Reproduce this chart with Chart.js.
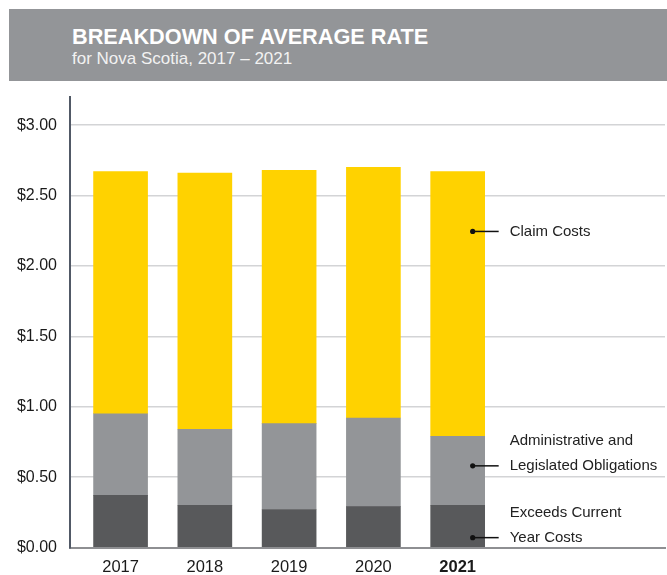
<!DOCTYPE html>
<html>
<head>
<meta charset="utf-8">
<script src="https://cdn.jsdelivr.net/npm/chart.js@4"></script>
<style>
  body { margin: 0; background: #fff; }
  #wrap { position: relative; width: 667px; height: 575px; }
  #banner { position: absolute; left: 9px; top: 9px; width: 658px; height: 72px; background: #939598; }
  .hd { position: absolute; left: 63px; line-height: 1; color: #fff; font-family: "Liberation Sans", Arial, sans-serif; white-space: nowrap; }
  #title { top: 16.6px; font-size: 21.7px; font-weight: bold; }
  #sub { top: 40.6px; font-size: 17px; color: #f2f2f2; }
</style>
</head>
<body>
<div id="wrap">
  <canvas id="rateChart"></canvas>
  <div id="banner">
    <div class="hd" id="title">BREAKDOWN OF AVERAGE RATE</div>
    <div class="hd" id="sub">for Nova Scotia, 2017 – 2021</div>
  </div>
</div>
<script>
// ===== DATA =====
const years = ["2017", "2018", "2019", "2020", "2021"];
const exceedsCosts = [0.37, 0.30, 0.27, 0.29, 0.30];
const adminObligations = [0.58, 0.54, 0.61, 0.63, 0.49];
const claimCosts = [1.72, 1.82, 1.80, 1.78, 1.88];
const seriesNames = [
    ["Exceeds Current", "Year Costs"],
    ["Administrative and", "Legislated Obligations"],
    ["Claim Costs"]
];
const yTicks = [0, 0.5, 1, 1.5, 2, 2.5, 3];

const toPoints = arr => arr.map((v, i) => ({ x: i, y: v }));

// callout labels next to the 2021 bar
const calloutPlugin = {
    id: "callouts",
    afterDatasetsDraw(chart) {
        const ctx = chart.ctx;
        const x = chart.scales.x;
        const y = chart.scales.y;
        const last = years.length - 1;
        const cx = x.getPixelForValue(last);
        // value where each dot sits
        const spots = [
            { v: 0.07, lines: seriesNames[0] },
            { v: 0.58, lines: seriesNames[1] },
            { v: 2.245, lines: seriesNames[2] }
        ];
        ctx.save();
        ctx.font = "15px 'Liberation Sans', Arial, sans-serif";
        ctx.textBaseline = "middle";
        ctx.strokeStyle = "#111";
        ctx.lineWidth = 1.5;
        spots.forEach(s => {
            const py = y.getPixelForValue(s.v);
            ctx.beginPath();
            ctx.arc(cx + 15, py, 2.6, 0, Math.PI * 2);
            ctx.fillStyle = "#111";
            ctx.fill();
            ctx.beginPath();
            ctx.moveTo(cx + 15, py);
            ctx.lineTo(cx + 41, py);
            ctx.stroke();
            ctx.fillStyle = "#222";
            const n = s.lines.length;
            s.lines.forEach((t, i) => {
                ctx.fillText(t, cx + 52, py - (n - 1 - i) * 25);
            });
        });
        ctx.restore();
    }
};

document.addEventListener("DOMContentLoaded", function () {
    const ctx = document.getElementById("rateChart").getContext("2d");
    new Chart(ctx, {
        type: "bar",
        data: {
            datasets: [
                { label: seriesNames[0].join(" "), data: toPoints(exceedsCosts), backgroundColor: "#58595b" },
                { label: seriesNames[1].join(" "), data: toPoints(adminObligations), backgroundColor: "#939598" },
                { label: seriesNames[2].join(" "), data: toPoints(claimCosts), backgroundColor: "#ffd200" }
            ]
        },
        options: {
            responsive: true,
            maintainAspectRatio: false,
            animation: false,
            barThickness: 54,
            layout: { padding: { top: 97, right: 2, left: 0, bottom: 0 } },
            plugins: {
                legend: { display: false },
                tooltip: { enabled: false }
            },
            scales: {
                x: {
                    type: "linear",
                    stacked: true,
                    offset: false,
                    min: -0.6,
                    max: 6.46,
                    afterBuildTicks: s => { s.ticks = years.map((_, i) => ({ value: i })); },
                    afterFit: s => { s.height = 27.5; },
                    grid: { display: false, offset: false },
                    border: { display: true, color: "#8e8f92", width: 2 },
                    ticks: {
                        padding: 2,
                        color: "#1a1a1a",
                        maxRotation: 0,
                        autoSkip: false,
                        callback: v => years[v],
                        font: c => ({
                            family: "'Liberation Sans', Arial, sans-serif",
                            size: 16.5,
                            weight: c.index === years.length - 1 ? "bold" : "normal"
                        })
                    }
                },
                y: {
                    stacked: true,
                    min: 0,
                    max: 3.2,
                    afterBuildTicks: s => { s.ticks = yTicks.map(v => ({ value: v })); },
                    afterFit: s => { s.width = 70; },
                    grid: { color: "#d3d4d6", lineWidth: 1.6, drawTicks: false },
                    border: { display: true, color: "#515966", width: 2 },
                    ticks: {
                        padding: 13,
                        color: "#1a1a1a",
                        callback: v => "$" + v.toFixed(2),
                        font: { family: "'Liberation Sans', Arial, sans-serif", size: 16 }
                    }
                }
            }
        },
        plugins: [calloutPlugin]
    });
});
</script>
</body>
</html>
